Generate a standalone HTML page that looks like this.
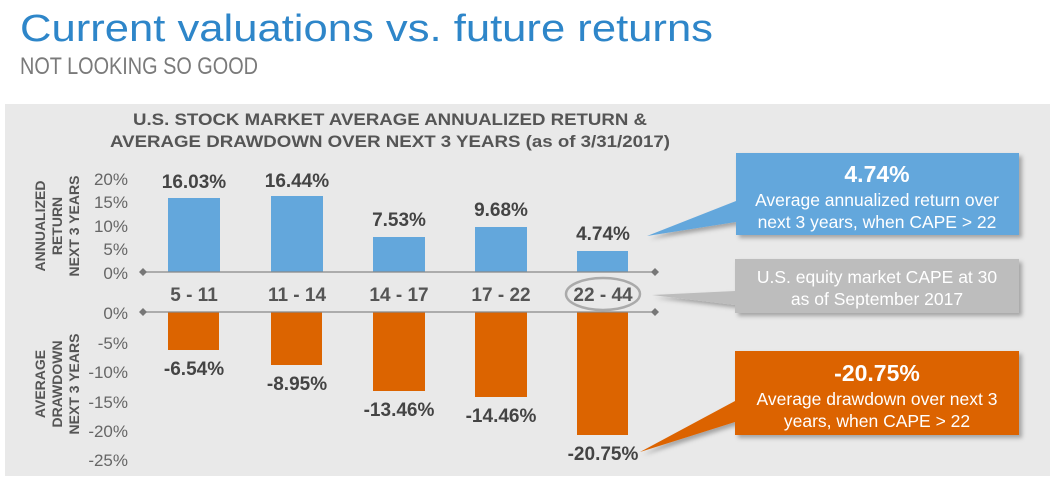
<!DOCTYPE html>
<html><head><meta charset="utf-8"><style>
html,body{margin:0;padding:0;background:#fff;}
svg{display:block;font-family:"Liberation Sans",Arial,sans-serif;}
</style></head><body>
<svg width="1057" height="483" viewBox="0 0 1057 483" xmlns="http://www.w3.org/2000/svg">
<defs>
<filter id="sh" x="-10%" y="-10%" width="130%" height="140%"><feDropShadow dx="3" dy="3" stdDeviation="2" flood-color="#000" flood-opacity="0.3"/></filter>
</defs>
<text x="20" y="41" font-size="38" fill="#2e86c9" textLength="693" lengthAdjust="spacingAndGlyphs">Current valuations vs. future returns</text>
<text x="20" y="74" font-size="24" fill="#7a7a7a" textLength="238" lengthAdjust="spacingAndGlyphs">NOT LOOKING SO GOOD</text>
<rect x="5" y="104" width="1045" height="372" fill="#e9e9e9"/>
<g font-weight="bold" fill="#555" font-size="17">
<text x="133" y="125" textLength="514" lengthAdjust="spacingAndGlyphs">U.S. STOCK MARKET AVERAGE ANNUALIZED RETURN &amp;</text>
<text x="110" y="147" textLength="560" lengthAdjust="spacingAndGlyphs">AVERAGE DRAWDOWN OVER NEXT 3 YEARS (as of 3/31/2017)</text>
</g>
<g font-weight="bold" fill="#555" font-size="14" text-anchor="middle">
<text transform="translate(45,226) rotate(-90)">ANNUALIZED</text>
<text transform="translate(62,226) rotate(-90)">RETURN</text>
<text transform="translate(79,226) rotate(-90)">NEXT 3 YEARS</text>
<text transform="translate(45,384) rotate(-90)">AVERAGE</text>
<text transform="translate(62,384) rotate(-90)">DRAWDOWN</text>
<text transform="translate(79,384) rotate(-90)">NEXT 3 YEARS</text>
</g>
<g font-size="17" fill="#666" text-anchor="end">
<text x="128" y="185">20%</text><text x="128" y="208">15%</text><text x="128" y="232">10%</text><text x="128" y="255">5%</text><text x="128" y="279">0%</text>
<text x="128" y="319">0%</text><text x="128" y="349">-5%</text><text x="128" y="378">-10%</text><text x="128" y="408">-15%</text><text x="128" y="437">-20%</text><text x="128" y="466">-25%</text>
</g>
<g fill="#63a7dc">
<rect x="168" y="198" width="52" height="74"/>
<rect x="271" y="196" width="52" height="76"/>
<rect x="373" y="237" width="52" height="35"/>
<rect x="475" y="227" width="52" height="45"/>
<rect x="577" y="251" width="51" height="21"/>
</g>
<g fill="#dc6400">
<rect x="168" y="312" width="51" height="38"/>
<rect x="271" y="312" width="51" height="53"/>
<rect x="373" y="312" width="52" height="79"/>
<rect x="475" y="312" width="52" height="85"/>
<rect x="577" y="312" width="51" height="123"/>
</g>
<g stroke="#888" stroke-width="1.3"><line x1="143" y1="272" x2="655" y2="272"/><line x1="143" y1="312" x2="655" y2="312"/></g>
<g fill="#777">
<path d="M143 268 l4 4 -4 4 -4 -4z"/><path d="M655 268 l4 4 -4 4 -4 -4z"/>
<path d="M143 308 l4 4 -4 4 -4 -4z"/><path d="M655 308 l4 4 -4 4 -4 -4z"/>
</g>
<g font-weight="bold" fill="#444" font-size="19" text-anchor="middle">
<text x="194" y="188">16.03%</text><text x="297" y="187">16.44%</text><text x="399" y="226">7.53%</text><text x="501" y="216">9.68%</text><text x="603" y="240">4.74%</text>
<text x="194" y="375">-6.54%</text><text x="297" y="390">-8.95%</text><text x="399" y="416">-13.46%</text><text x="501" y="422">-14.46%</text><text x="603" y="460">-20.75%</text>
</g>
<g font-weight="bold" fill="#555" font-size="19" text-anchor="middle">
<text x="194" y="301">5 - 11</text><text x="297" y="301">11 - 14</text><text x="399" y="301">14 - 17</text><text x="501" y="301">17 - 22</text><text x="603" y="301">22 - 44</text>
</g>
<ellipse cx="603" cy="294" rx="37" ry="16" fill="none" stroke="#aaa" stroke-width="2.5"/>
<g filter="url(#sh)">
<path d="M736 153 H1019 V235 H736 V222 L647 236 L736 201Z" fill="#63a7dc"/>
<path d="M735 259 H1019 V313 H735 V305 L652 295 L735 291Z" fill="#bdbdbd"/>
<path d="M735 351 H1019 V435 H735 V422 L640 452 L735 401Z" fill="#dc6400"/>
</g>
<g fill="#fff" text-anchor="middle">
<text x="877" y="182" font-size="23" font-weight="bold">4.74%</text>
<text x="877" y="206" font-size="17.5">Average annualized return over</text>
<text x="877" y="228" font-size="17.5">next 3 years, when CAPE &gt; 22</text>
<text x="877" y="283" font-size="17.5">U.S. equity market CAPE at 30</text>
<text x="877" y="305" font-size="17.5">as of September 2017</text>
<text x="877" y="381" font-size="23" font-weight="bold">-20.75%</text>
<text x="877" y="405" font-size="17.5">Average drawdown over next 3</text>
<text x="877" y="427" font-size="17.5">years, when CAPE &gt; 22</text>
</g>
</svg>
</body></html>
